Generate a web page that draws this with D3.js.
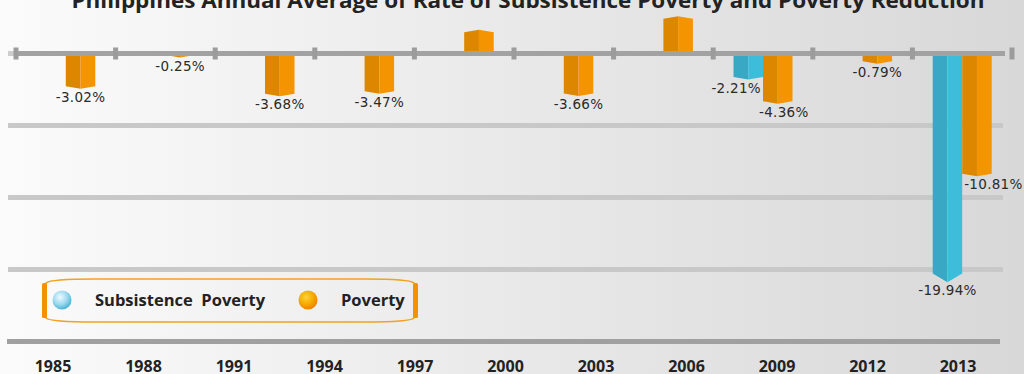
<!DOCTYPE html>
<html>
<head>
<meta charset="utf-8">
<script src="https://cdn.jsdelivr.net/npm/d3@7/dist/d3.min.js"></script>
<style>
  html, body { margin: 0; padding: 0; overflow: hidden; }
  svg { display: block; }
</style>
</head>
<body>
<svg id="chart" width="1024" height="374"></svg>
<script>
// ---- data ----
const title = "Philippines Annual Average of Rate of Subsistence Poverty and Poverty Reduction";
const periods = ["1985", "1988", "1991", "1994", "1997", "2000", "2003", "2006", "2009", "2012"];
const yearLabels = ["1985", "1988", "1991", "1994", "1997", "2000", "2003", "2006", "2009", "2012", "2013"];
const seriesKeys = ["sub", "pov"];
const seriesNames = ["Subsistence\u00a0\u00a0Poverty", "Poverty"];
const subsistence = [null, null, null, null, null, null, null, -2.21, null, -19.94];
const poverty = [-3.02, -0.25, -3.68, -3.47, 2.0, -3.66, 3.2, -4.36, -0.79, -10.81];
const yMin = -25.6;

// ---- setup ----
const W = 1024, H = 374;
const svg = d3.select("#chart");
const defs = svg.append("defs");

const bg = defs.append("linearGradient").attr("id", "bg").attr("x1", "0").attr("x2", "1").attr("y1", "0").attr("y2", "0");
bg.append("stop").attr("offset", "0").attr("stop-color", "#fbfbfb");
bg.append("stop").attr("offset", "0.5").attr("stop-color", "#e9e9e9");
bg.append("stop").attr("offset", "1").attr("stop-color", "#d8d8d8");
svg.append("rect").attr("width", W).attr("height", H).attr("fill", "url(#bg)");

function sphere(id, c0, c1, c2) {
  const g = defs.append("radialGradient").attr("id", id).attr("cx", "0.4").attr("cy", "0.35").attr("r", "0.65");
  g.append("stop").attr("offset", "0").attr("stop-color", c0);
  g.append("stop").attr("offset", "0.6").attr("stop-color", c1);
  g.append("stop").attr("offset", "1").attr("stop-color", c2);
}
sphere("sphSub", "#eefaff", "#9ad8ee", "#4db3d6");
sphere("sphPov", "#ffd23a", "#f7a800", "#ea8400");

const colors = {
  sub: { dark: "#38a8c4", light: "#3ebddb" },
  pov: { dark: "#dd8600", light: "#f39400" }
};

// ---- scales ----
const x = d3.scaleBand().domain(periods).range([16, 1012]).padding(0);
const barW = 29.5;
const xs = d3.scaleBand().domain(seriesKeys).range([-barW, barW]).padding(0);
const y = d3.scaleLinear().domain([yMin, 0]).range([341.5, 53.5]);
const xYear = d3.scalePoint().domain(yearLabels).range([53, 958]);

// ---- title ----
svg.append("text")
  .attr("x", 528).attr("y", 8)
  .attr("text-anchor", "middle")
  .attr("font-family", "'Open Sans', sans-serif")
  .attr("font-weight", 700)
  .attr("font-size", 21)
  .attr("fill", "#222")
  .attr("textLength", 913)
  .attr("lengthAdjust", "spacingAndGlyphs")
  .text(title);

// ---- grid lines ----
const gridVals = [1, 2, 3].map(k => yMin * k / 4);
svg.append("g").selectAll("line").data(gridVals).join("line")
  .attr("x1", 8).attr("x2", 1003)
  .attr("y1", d => y(d)).attr("y2", d => y(d))
  .attr("stroke", "#c8c8c8").attr("stroke-width", 5);

svg.append("line")
  .attr("x1", 7).attr("x2", 1000)
  .attr("y1", y(yMin)).attr("y2", y(yMin))
  .attr("stroke", "#a0a0a0").attr("stroke-width", 5);

// ---- bars ----
const barData = [];
periods.forEach((p, i) => {
  const vals = { sub: subsistence[i], pov: poverty[i] };
  seriesKeys.forEach(k => {
    if (vals[k] !== null) {
      barData.push({ period: p, key: k, value: vals[k], pair: vals.sub !== null && vals.pov !== null, other: k === "sub" ? vals.pov : vals.sub });
    }
  });
});

function geom(d) {
  const cx = x(d.period) + x.bandwidth() / 2;
  const x0 = cx + xs(d.key);
  const x1 = x0 + xs.bandwidth();
  const xm = (x0 + x1) / 2;
  const y0 = y(0);
  const h = Math.abs(y(d.value) - y0);
  const c = 2.5 + Math.max(0, h - 150) * 0.085;
  const sgn = d.value < 0 ? 1 : -1;
  const ySide = y(d.value) - sgn * c / 2;
  const yTip = y(d.value) + sgn * c / 2;
  return { x0, x1, xm, y0, ySide, yTip };
}

const bars = svg.append("g").selectAll("g").data(barData).join("g");
bars.append("path")
  .attr("fill", d => colors[d.key].dark)
  .attr("d", d => {
    const g = geom(d);
    return `M${g.x0},${g.y0}L${g.x0},${g.ySide}L${g.xm},${g.yTip}L${g.xm},${g.y0}Z`;
  });
bars.append("path")
  .attr("fill", d => colors[d.key].light)
  .attr("d", d => {
    const g = geom(d);
    return `M${g.xm},${g.y0}L${g.xm},${g.yTip}L${g.x1},${g.ySide}L${g.x1},${g.y0}Z`;
  });

// ---- zero axis ----
svg.append("line").attr("x1", 8).attr("x2", 16).attr("y1", y(0)).attr("y2", y(0))
  .attr("stroke", "#cdcdcd").attr("stroke-width", 5);
svg.append("line").attr("x1", 16).attr("x2", 1005).attr("y1", y(0)).attr("y2", y(0))
  .attr("stroke", "#a2a2a2").attr("stroke-width", 5);
const edges = periods.map(p => x(p)).concat([x(periods[periods.length - 1]) + x.bandwidth()]);
svg.append("g").selectAll("rect").data(edges).join("rect")
  .attr("x", d => d - 2.5).attr("y", y(0) - 6)
  .attr("width", 5).attr("height", 12)
  .attr("fill", "#9c9c9c");

// ---- value labels (negative values) ----
const labelG = svg.append("g")
  .attr("font-family", "'DejaVu Sans', sans-serif")
  .attr("font-size", 13.5)
  .attr("letter-spacing", 0.3)
  .attr("fill", "#2a2a2a");
barData.filter(d => d.value < 0).forEach(d => {
  const g = geom(d);
  const ly = g.yTip + 13;
  let lx = g.xm, anchor = "middle";
  if (d.pair) {
    const otherBottom = y(d.other);
    const overlap = otherBottom > ly - 12;
    if (d.key === "pov") { anchor = "start"; lx = g.x0 + (overlap ? 2 : -4); }
    else if (overlap) { anchor = "end"; lx = g.x1 - 2; }
  }
  labelG.append("text")
    .attr("x", lx).attr("y", ly)
    .attr("text-anchor", anchor)
    .text(d.value.toFixed(2) + "%");
});

// ---- x labels ----
svg.append("g").selectAll("text").data(yearLabels).join("text")
  .attr("x", d => xYear(d)).attr("y", 372)
  .attr("text-anchor", "middle")
  .attr("font-family", "'Open Sans', sans-serif")
  .attr("font-weight", 700)
  .attr("font-size", 16)
  .attr("fill", "#222")
  .text(d => d);

// ---- legend ----
const lg = svg.append("g");
lg.append("path")
  .attr("d", "M46,283 Q50,279 95,279 L365,279 Q410,279 414,283 L414,318 Q410,322 365,322 L95,322 Q50,322 46,318 Z")
  .attr("fill", "none").attr("stroke", "#f4a020").attr("stroke-width", 1.5);
lg.append("rect").attr("x", 42).attr("y", 283).attr("width", 5).attr("height", 35).attr("rx", 1.5).attr("fill", "#f39200");
lg.append("rect").attr("x", 413).attr("y", 283).attr("width", 5).attr("height", 35).attr("rx", 1.5).attr("fill", "#f39200");

const legendItems = [
  { name: seriesNames[0], grad: "url(#sphSub)", cx: 62, tx: 95 },
  { name: seriesNames[1], grad: "url(#sphPov)", cx: 308, tx: 341 }
];
legendItems.forEach(it => {
  lg.append("circle").attr("cx", it.cx).attr("cy", 300).attr("r", 9.5).attr("fill", it.grad);
  lg.append("text")
    .attr("x", it.tx).attr("y", 306)
    .attr("font-family", "'Open Sans', sans-serif")
    .attr("font-weight", 700)
    .attr("font-size", 16.5)
    .attr("fill", "#222")
    .text(it.name);
});
</script>
</body>
</html>
